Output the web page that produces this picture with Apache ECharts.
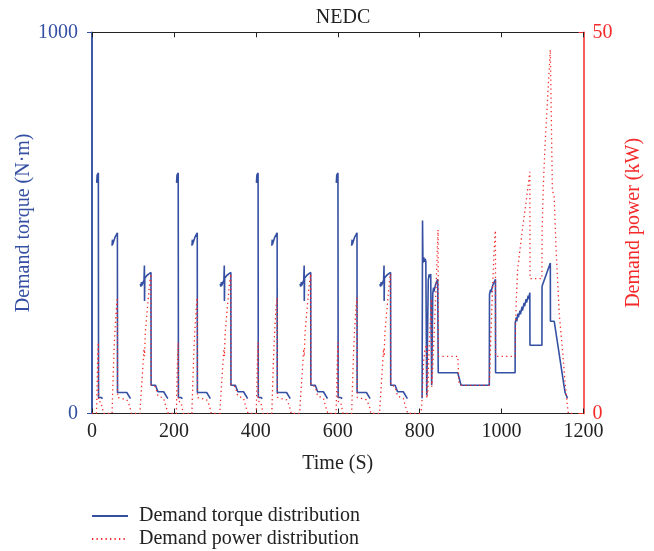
<!DOCTYPE html>
<html>
<head>
<meta charset="utf-8">
<script src="https://cdn.jsdelivr.net/npm/echarts@6/dist/echarts.min.js"></script>
<style>
html,body{margin:0;padding:0;background:#fff;}
#chart{width:654px;height:551px;}
</style>
</head>
<body>
<div id="chart"></div>
<script>
// ---- data ----
var xTicks = [0, 200, 400, 600, 800, 1000, 1200];
var cycleStarts = [0, 195, 390, 585];   // four urban (ECE) cycles
// torque of one urban cycle: [time within cycle (s), torque (N·m)], null = gap
var eceTorque = [
  [11.5,605],[12.5,625],[15.5,631],[16,42],[22,42],[26,39],[26,null],
  [49,440],[50,456],[50.5,443],[51.5,446],[53,452],[56,462],[59,468],[62,474],[62.3,55],[85,55],[94,39],[94,null],
  [118,340],[119.5,333],[121,345],[122,336],[124,342],[127,350],[128,388],[128.3,295],[129,355],[131,358],[134,362],[139,366],[144,370],[144.3,74],[155,74],[161,57],[175,57],[185,39],[185,null]
];
// power of one urban cycle: [time within cycle (s), power (kW)]
var ecePower = [
  [0,0],[11,0],[12,2.5],[13,5],[14,7.2],[15.5,9.3],[16,1.6],[22,1.5],[26,0.5],[28,0],
  [49,0],[50,2],[52,5.5],[54,8.5],[56,10.8],[58,12.6],[60,14.2],[62,15.2],[62.5,2.1],[85,1.8],[92,1],[96,0],
  [117,0],[118,1],[121,3.5],[124,6],[127,8.5],[128.3,7.5],[130,10.5],[134,13],[138,15.5],[141,17.2],[144,18.3],[144.5,3.8],[155,3.5],[161,2.3],[175,2],[180,1],[186,0]
];
// extra-urban part, absolute time
var startTorque = [[0,1000],[0.2,0],[0.2,null]];
var eudcTorque = [
  [806,40],[807,506],[808,395],[810,410],[811,398],[813,406],[815,400],[817,398],[817.3,48],[820.5,45],
  [821,350],[823,365],[825,357],[827,366],[829,370],[829.3,75],[831.5,72],
  [832,315],[834,330],[835,320],[838,335],[841,345],[844,352],[845,352],[845.3,107],[893,107],[901,74],[970,74],
  [970.5,312],[973,325],[974,318],[978,335],[982,345],[985,352],[985.3,107],[1033,107],
  [1033.3,238],[1036,252],[1037,242],[1040,262],[1041,252],[1045,270],[1046,260],[1050,280],[1051,270],[1055,290],[1056,281],[1060,300],[1061,291],[1065,309],[1066,300],[1069,317],
  [1069.3,179],[1098.5,179],[1098.8,334],[1119,395],[1119.3,242],[1128.5,242],[1155,55],[1161,40],[1161,null]
];
var eudcPower = [
  [780,0],[800,0],[804,0.5],[806,2],[808,5],[810,7],[813,8.5],[817,9],[817.5,2],[820,3],[822,7],[825,11],[829,15],[829.5,3.5],
  [832,6],[835,10],[838,14],[841,18],[843,21.5],[845,24.1],[845.5,7.5],[893,7.5],[896,4],[901,3.7],[970,3.7],
  [971,3.7],[972,7],[975,12],[978,16.5],[981,20.5],[984,23.5],[985,24],[985.5,7.5],[1033,7.5],
  [1034,11],[1036,15],[1039,18.8],[1045,21.5],[1051,24.2],[1059,27.4],[1065,30],[1069,31.7],[1069.5,17.7],[1098.5,17.7],
  [1099,24],[1102,30],[1106,35],[1110,39],[1114,43],[1119,47.7],[1124,29.3],[1128.5,28.4],[1132.7,21.9],[1140.7,13.1],[1148.8,8.3],[1155,4],[1161,0.9],[1163,0],[1180,0]
];
var seriesNames = ['Demand torque distribution', 'Demand power distribution'];

// ---- build series data ----
var torqueData = startTorque.slice();
var powerData = [];
cycleStarts.forEach(function (s) {
  eceTorque.forEach(function (p) { torqueData.push([p[0] + s, p[1]]); });
  ecePower.forEach(function (p) { powerData.push([p[0] + s, p[1]]); });
});
torqueData = torqueData.concat(eudcTorque);
powerData = powerData.concat(eudcPower);

var FONT = '"Liberation Serif","Times New Roman",serif';
var BLUE = '#3550a3';
var RED = '#f42a2a';
function plain(v) { return String(v); }
function legendAt(name, top) {
  return {
    left: 86, top: top, orient: 'vertical', itemWidth: 36, itemHeight: 14,
    data: [name], itemStyle: {opacity: 0},
    textStyle: {fontFamily: FONT, fontSize: 20, color: '#222', padding: [0, 0, 0, 6]}
  };
}

var chart = echarts.init(document.getElementById('chart'), null, {renderer: 'canvas'});
chart.setOption({
  animation: false,
  backgroundColor: '#ffffff',
  title: {
    text: 'NEDC', left: 338, top: 3, textAlign: 'center',
    textStyle: {fontFamily: FONT, fontSize: 20, fontWeight: 'normal', color: '#222'}
  },
  grid: {left: 92, right: 70.5, top: 32.3, bottom: 137.5, containLabel: false, outerBoundsMode: 'none'},
  legend: [legendAt(seriesNames[0], 501), legendAt(seriesNames[1], 524)],
  xAxis: [{
    type: 'value', min: 0, max: 1200, interval: 200, position: 'bottom', z: 3,
    name: 'Time (S)', nameLocation: 'middle', nameGap: 40,
    nameTextStyle: {fontFamily: FONT, fontSize: 20, color: '#222'},
    axisLine: {show: true, onZero: false, lineStyle: {color: '#222', width: 1.2}},
    axisTick: {show: true, inside: true, length: 5, lineStyle: {color: '#222'}},
    axisLabel: {fontFamily: FONT, fontSize: 20, color: '#222', margin: 8, formatter: plain},
    splitLine: {show: false}
  }, {
    type: 'value', min: 0, max: 1200, interval: 200, position: 'top', z: 3,
    axisLine: {show: true, onZero: false, lineStyle: {color: '#222', width: 1.2}},
    axisTick: {show: true, inside: true, length: 5, lineStyle: {color: '#222'}},
    axisLabel: {show: false},
    splitLine: {show: false}
  }],
  yAxis: [{
    type: 'value', min: 0, max: 1000, interval: 1000, position: 'left', z: 3,
    name: 'Demand torque (N·m)', nameLocation: 'middle', nameGap: 58, nameRotate: 90, nameMoveOverlap: false,
    nameTextStyle: {fontFamily: FONT, fontSize: 20, color: BLUE},
    axisLine: {show: true, onZero: false, lineStyle: {color: BLUE, width: 1.5}},
    axisTick: {show: true, inside: false, length: 5, lineStyle: {color: BLUE}},
    axisLabel: {fontFamily: FONT, fontSize: 20, color: BLUE, margin: 14, formatter: plain},
    splitLine: {show: false}
  }, {
    type: 'value', min: 0, max: 50, interval: 50, position: 'right', z: 3,
    name: 'Demand power (kW)', nameLocation: 'middle', nameGap: 40, nameRotate: 90, nameMoveOverlap: false,
    nameTextStyle: {fontFamily: FONT, fontSize: 20, color: RED},
    axisLine: {show: true, onZero: false, lineStyle: {color: RED, width: 1.5}},
    axisTick: {show: true, inside: true, length: 5, lineStyle: {color: RED}},
    axisLabel: {fontFamily: FONT, fontSize: 20, color: RED, margin: 9, formatter: plain},
    splitLine: {show: false}
  }],
  series: [{
    name: seriesNames[0], type: 'line', xAxisIndex: 0, yAxisIndex: 0,
    data: torqueData, showSymbol: false, symbol: 'none', connectNulls: false, z: 2,
    lineStyle: {color: BLUE, width: 1.6},
    itemStyle: {color: BLUE}
  }, {
    name: seriesNames[1], type: 'line', xAxisIndex: 0, yAxisIndex: 1,
    data: powerData, showSymbol: false, symbol: 'none', z: 4,
    lineStyle: {color: RED, width: 1.3, type: [1.3, 3.2]},
    itemStyle: {color: RED}
  }]
});
</script>
</body>
</html>
